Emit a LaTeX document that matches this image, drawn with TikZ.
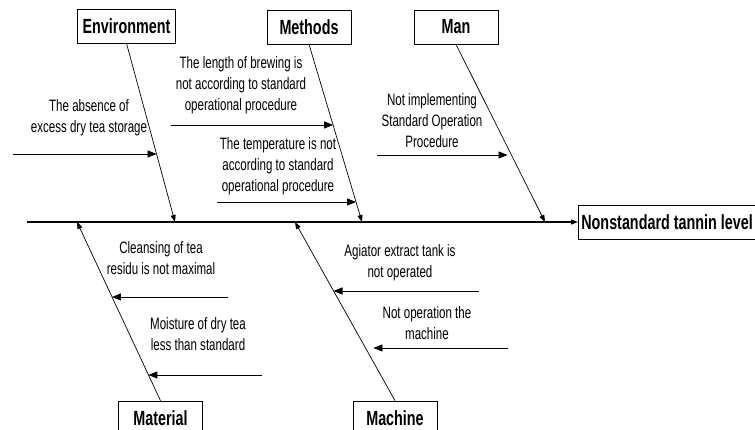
\documentclass[tikz,border=0pt]{standalone}
\usepackage{fontspec}
\setmainfont{Liberation Sans}[FakeStretch=0.7]
\usetikzlibrary{arrows.meta}

\begin{document}
\begin{tikzpicture}[x=1pt,y=-1pt,line width=.8pt,
  catbox/.style={draw,line width=.7pt,minimum width=84pt,minimum height=34pt,inner xsep=5pt,font=\bfseries\fontsize{20.5}{22}\selectfont},
  causetext/.style={align=center,inner sep=0pt,font=\fontsize{16.5}{21}\selectfont},
  bone/.style={line width=.7pt,-{Triangle[length=7pt,width=5pt]}},
  cause/.style={line width=.8pt,-{Triangle[length=9pt,width=7pt]}}]
\path[use as bounding box] (0,0) rectangle (755,430);
\node[catbox] (env) at (126.5,26) {Environment};
\node[catbox] (meth) at (309,27) {Methods};
\node[catbox] (man) at (456,27) {Man};
\node[catbox] (mat) at (160.5,418) {Material};
\node[catbox] (mach) at (395,418) {Machine};
\node[catbox,anchor=west,inner xsep=3pt] (effect) at (578,222) {Nonstandard tannin level};
\coordinate (tail) at (27,222);
\draw[line width=1.1pt,-{Triangle[length=7pt,width=5pt]}] (tail) -- (effect);
\coordinate (envtip) at (175,222);
\coordinate (methtip) at (362,222);
\coordinate (mantip) at (545,222);
\coordinate (mattip) at (77,222);
\coordinate (machtip) at (295,222);
\draw[bone] (env.south) -- coordinate[pos=.62] (env1) (envtip);
\draw[bone] (meth.south) -- coordinate[pos=.455] (meth1) coordinate[pos=.888] (meth2) (methtip);
\draw[bone] (man.south) -- coordinate[pos=.624] (man1) (mantip);
\draw[bone] (mat.north) -- coordinate[pos=.581] (mat1) coordinate[pos=.145] (mat2) (mattip);
\draw[bone] (mach.north) -- coordinate[pos=.615] (mach1) coordinate[pos=.296] (mach2) (machtip);
\coordinate (c1) at (13,154);
\coordinate (c2) at (171,125);
\coordinate (c3) at (217,202);
\coordinate (c4) at (377,155);
\coordinate (c5) at (228,297);
\coordinate (c6) at (262,375);
\coordinate (c7) at (479,291);
\coordinate (c8) at (508,348);
\draw[cause] (c1) -- (c1 -| env1);
\draw[cause] (c2) -- (c2 -| meth1);
\draw[cause] (c3) -- (c3 -| meth2);
\draw[cause,shorten >=4pt] (c4) -- (c4 -| man1);
\draw[cause] (c5) -- (c5 -| mat1);
\draw[cause] (c6) -- (c6 -| mat2);
\draw[cause] (c7) -- (c7 -| mach1);
\draw[cause,shorten >=8pt] (c8) -- (c8 -| mach2);
\node[causetext] (t1) at (89,118) {The absence of\\excess dry tea storage};
\node[causetext] (t2) at (241,85) {The length of brewing is\\not according to standard\\operational procedure};
\node[causetext] (t3) at (278,166) {The temperature is not\\according to standard\\operational procedure};
\node[causetext] (t4) at (432,121) {Not implementing\\Standard Operation\\Procedure};
\node[causetext] (t5) at (161,258.5) {Cleansing of tea\\residu is not maximal};
\node[causetext] (t6) at (198,334) {Moisture of dry tea\\less than standard};
\node[causetext] (t7) at (400,263) {Agiator extract tank is\\not operated};
\node[causetext] (t8) at (427,323) {Not operation the\\machine};
\end{tikzpicture}
\end{document}
